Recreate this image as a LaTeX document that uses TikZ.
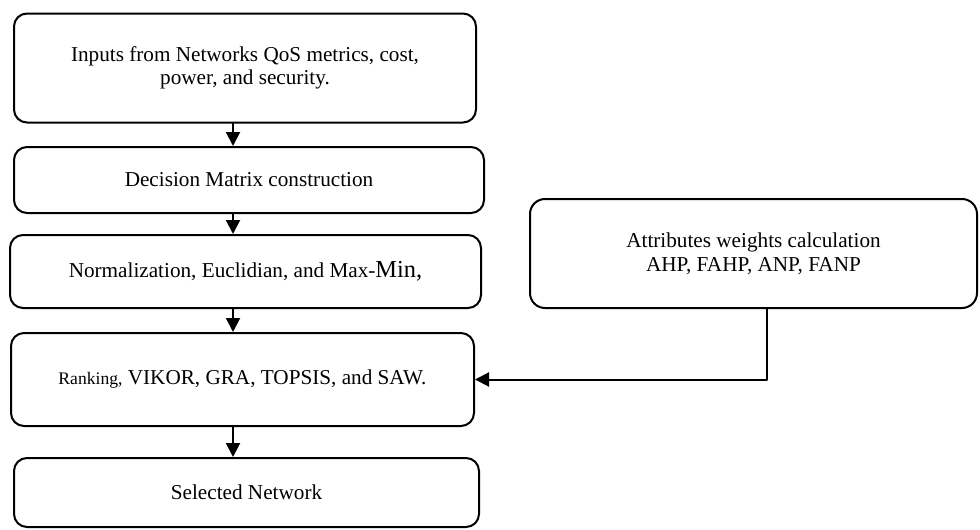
\documentclass[tikz,border=0pt]{standalone}
\usepackage{fontspec}
\setmainfont{Liberation Serif}
\usepackage{tikz}
\usetikzlibrary{arrows.meta}

\begin{document}
\begin{tikzpicture}
    [line cap=round,line join=round,x=0.5pt,y=-0.5pt,
     box/.style={draw,line width=1pt,rounded corners=6.5pt,align=center,inner sep=0pt,
        font=\fontsize{10.6}{11.8}\selectfont},
     arr/.style={-{Triangle[width=7pt,length=7pt]},line width=1pt}]
\useasboundingbox (0,0) rectangle (980,530);
%main column of steps
\node[box,minimum width=231pt,minimum height=54.5pt] (inputs) at (245,68)
    {Inputs from Networks QoS metrics, cost,\\power, and security.};
\node[box,minimum width=235pt,minimum height=33pt] (decision) at (249,180)
    {Decision Matrix construction};
\node[box,minimum width=235.5pt,minimum height=36.5pt] (normal) at (245.5,271.5)
    {Normalization, Euclidian, and Max-{\fontsize{12.2}{12}\selectfont Min,}};
\node[box,minimum width=231.5pt,minimum height=46.5pt] (ranking) at (242.5,379.5)
    {{\fontsize{8.8}{10}\selectfont Ranking,} VIKOR, GRA, TOPSIS, and SAW.};
\node[box,minimum width=232.5pt,minimum height=34.5pt] (selected) at (246.5,492.5)
    {Selected Network};
%side box with the weights
\node[box,rounded corners=7.5pt,minimum width=223.5pt,minimum height=54.5pt] (weights) at (753.5,253.5)
    {Attributes weights calculation\\AHP, FAHP, ANP, FANP};

%the arrows
\coordinate (axis) at (233,0);
\coordinate (tap) at (767,0);
 \draw[arr] (inputs.south -| axis) -- (decision.north -| axis);
 \draw[arr] (decision.south -| axis) -- (normal.north -| axis);
 \draw[arr] (normal.south -| axis) -- (ranking.north -| axis);
 \draw[arr] (ranking.south -| axis) -- (selected.north -| axis);
 \draw[arr] (weights.south -| tap) |- (ranking.east);
%\draw[arr] (weights.west) -- (ranking.east);

\end{tikzpicture}
\end{document}
